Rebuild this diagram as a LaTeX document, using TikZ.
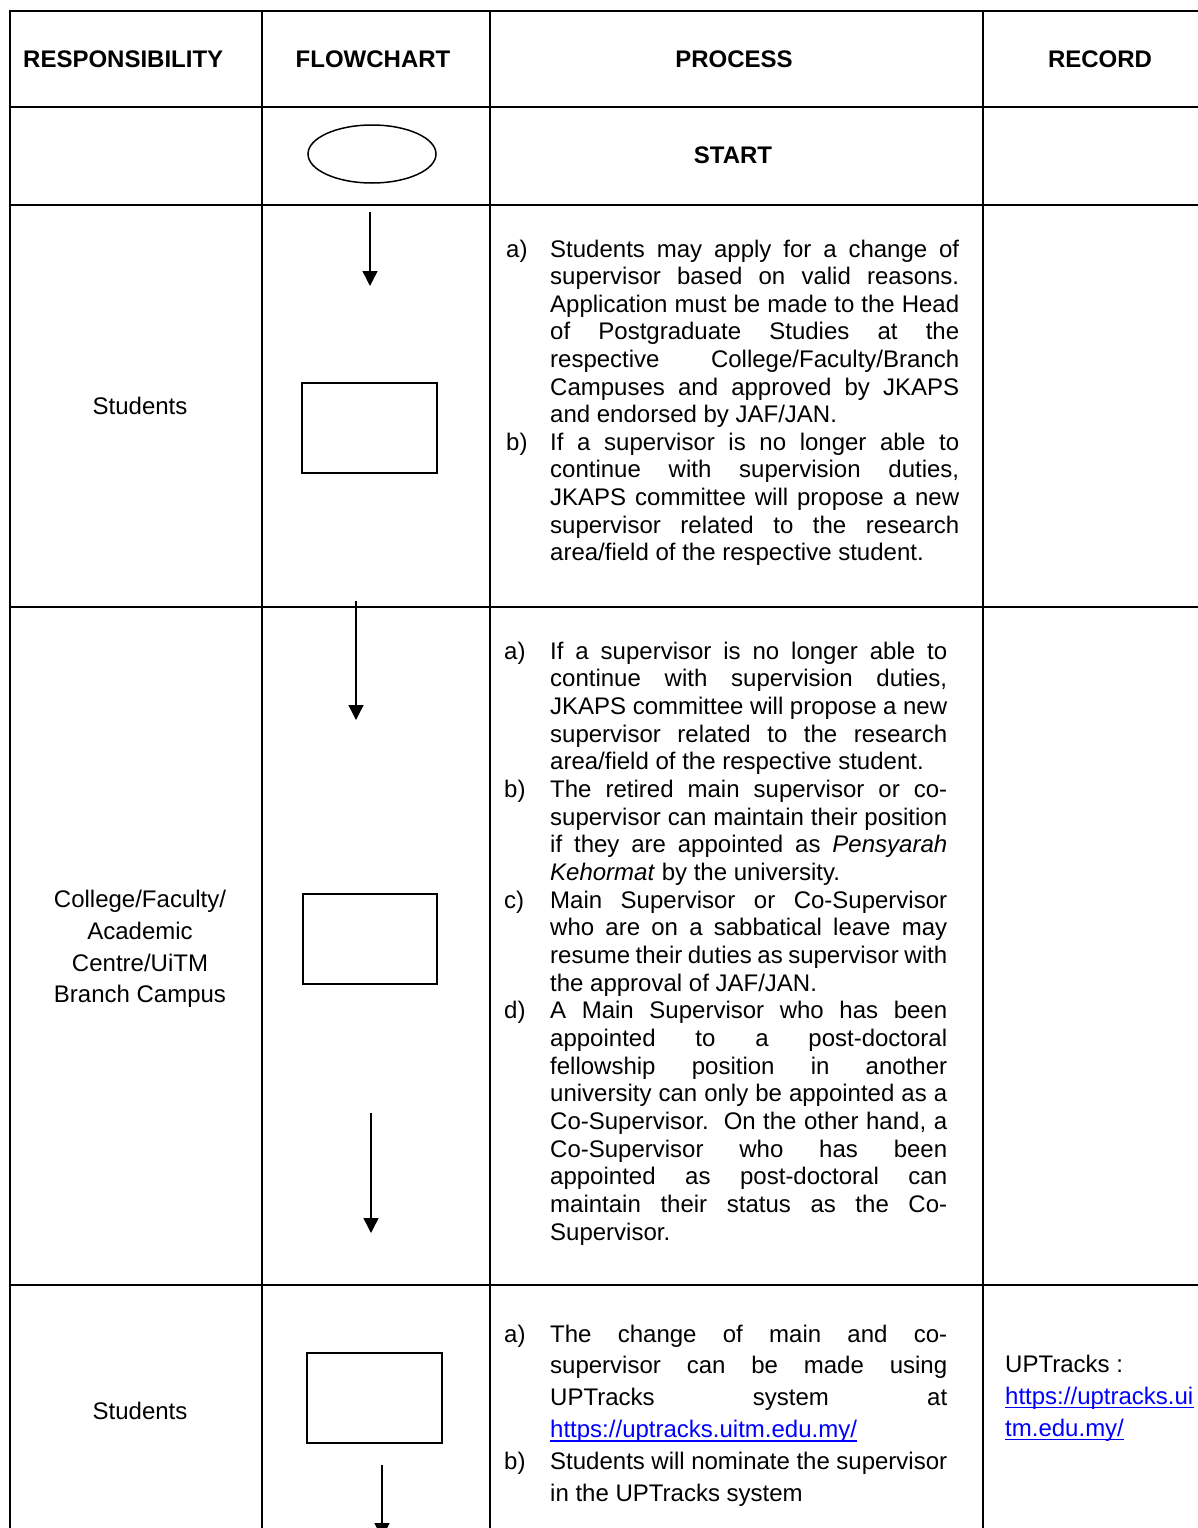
\documentclass[tikz,border=0pt]{standalone}
\usepackage{fontspec}
\setmainfont{Liberation Sans}
\usetikzlibrary{arrows.meta,shapes.geometric}
\definecolor{linkblue}{RGB}{0,0,255}
\newcommand{\bodyfont}{\fontsize{24}{27.6}\selectfont}
\newcommand{\JL}[4]{\node[txt] (#1) at #2 {\makebox[#3][s]{#4}};}
\newcommand{\LL}[3]{\node[txt] (#1) at #2 {#3};}
\begin{document}
\begin{tikzpicture}[x=1pt,y=-1pt,
  grid/.style={line width=2pt, line cap=rect},
  txt/.style={anchor=base west, inner sep=0pt, font=\bodyfont},
  ctxt/.style={anchor=base, inner sep=0pt, font=\bodyfont},
  head/.style={anchor=base, inner sep=0pt, font=\bodyfont\bfseries},
  stepbox/.style={draw, line width=2pt, rectangle, minimum width=135pt, minimum height=90pt, inner sep=0pt},
  flowarrow/.style={line width=1.4pt, -{Triangle[width=15pt,length=15pt]}},
  linktxt/.style={txt, text=linkblue}
]
\clip (0,0) rectangle (1198,1528);
\fill[white] (0,0) rectangle (1198,1528);

% grid
\draw[grid] (10,11) -- (1200,11);
\draw[grid] (10,107) -- (1200,107);
\draw[grid] (10,205) -- (1200,205);
\draw[grid] (10,607) -- (1200,607);
\draw[grid] (10,1285) -- (1200,1285);
\draw[grid] (10,11) -- (10,1530);
\draw[grid] (262,11) -- (262,1530);
\draw[grid] (490,11) -- (490,1530);
\draw[grid] (983,11) -- (983,1530);

% header
\node[txt, font=\bodyfont\bfseries] (hResp) at (23,67.6) {RESPONSIBILITY};
\node[head] (hFlow) at (373,67.6) {FLOWCHART};
\node[head] (hProc) at (734,67.6) {PROCESS};
\node[head] (hRec) at (1100,67.6) {RECORD};

% start row
\node[draw, ellipse, line width=1.5pt, minimum width=128pt, minimum height=58pt, inner sep=0pt] (start) at (372,154) {};
\node[head] (startTxt) at (733,163.6) {START};

% flowchart shapes
\node[stepbox] (box1) at (369.5,428) {};
\node[stepbox, minimum width=134pt] (box2) at (370,939) {};
\node[stepbox] (box3) at (374.5,1398) {};

\coordinate (a1s) at (370,212); \coordinate (a1e) at (370,286);
\coordinate (a2s) at (356,601); \coordinate (a2e) at (356,720);
\coordinate (a3s) at (371,1113); \coordinate (a3e) at (371,1233);
\coordinate (a4s) at (382,1465); \coordinate (a4e) at (382,1538);
\draw[flowarrow] (a1s) -- (a1e);
\draw[flowarrow] (a2s) -- (a2e);
\draw[flowarrow] (a3s) -- (a3e);
\draw[flowarrow] (a4s) -- (a4e);

% responsibility column
\node[ctxt] (resp1) at (140,414) {Students};
\node[ctxt] (resp2a) at (140,907) {College/Faculty/};
\node[ctxt] (resp2b) at (140,939) {Academic};
\node[ctxt] (resp2c) at (140,971) {Centre/UiTM};
\node[ctxt] (resp2d) at (140,1002) {Branch Campus};
\node[ctxt] (resp3) at (140,1419) {Students};

% process row 2
\LL{pAa}{(506,257)}{a)}
\JL{pA1}{(550,257)}{409pt}{Students may apply for a change of}
\JL{pA2}{(550,284.6)}{409pt}{supervisor based on valid reasons.}
\JL{pA3}{(550,312.2)}{409pt}{Application must be made to the Head}
\JL{pA4}{(550,339.8)}{409pt}{of Postgraduate Studies at the}
\JL{pA5}{(550,367.4)}{409pt}{respective College/Faculty/Branch}
\JL{pA6}{(550,395)}{409pt}{Campuses and approved by JKAPS}
\LL{pA7}{(550,422.6)}{and endorsed by JAF/JAN.}
\LL{pAb}{(506,450.2)}{b)}
\JL{pA8}{(550,450.2)}{409pt}{If a supervisor is no longer able to}
\JL{pA9}{(550,477.8)}{409pt}{continue with supervision duties,}
\JL{pA10}{(550,505.4)}{409pt}{JKAPS committee will propose a new}
\JL{pA11}{(550,533)}{409pt}{supervisor related to the research}
\LL{pA12}{(550,560.6)}{area/field of the respective student.}

% process row 3
\LL{pBa}{(504,659)}{a)}
\JL{pB1}{(550,659)}{397pt}{If a supervisor is no longer able to}
\JL{pB2}{(550,686.67)}{397pt}{continue with supervision duties,}
\JL{pB3}{(550,714.33)}{397pt}{JKAPS committee will propose a new}
\JL{pB4}{(550,742)}{397pt}{supervisor related to the research}
\LL{pB5}{(550,769.67)}{area/field of the respective student.}
\LL{pBb}{(504,797.33)}{b)}
\JL{pB6}{(550,797.33)}{397pt}{The retired main supervisor or co-}
\JL{pB7}{(550,825)}{397pt}{supervisor can maintain their position}
\JL{pB8}{(550,852.67)}{397pt}{if they are appointed as \textit{Pensyarah}}
\LL{pB9}{(550,880.33)}{\textit{Kehormat} by the university.}
\LL{pBc}{(504,908)}{c)}
\JL{pB10}{(550,908)}{397pt}{Main Supervisor or Co-Supervisor}
\JL{pB11}{(550,935.67)}{397pt}{who are on a sabbatical leave may}
\JL{pB12}{(550,963.33)}{397pt}{resume their duties as supervisor with}
\LL{pB13}{(550,991)}{the approval of JAF/JAN.}
\LL{pBd}{(504,1018.67)}{d)}
\JL{pB14}{(550,1018.67)}{397pt}{A Main Supervisor who has been}
\JL{pB15}{(550,1046.33)}{397pt}{appointed to a post-doctoral}
\JL{pB16}{(550,1074)}{397pt}{fellowship position in another}
\JL{pB17}{(550,1101.67)}{397pt}{university can only be appointed as a}
\JL{pB18}{(550,1129.33)}{397pt}{Co-Supervisor.\ \ On the other hand, a}
\JL{pB19}{(550,1157)}{397pt}{Co-Supervisor who has been}
\JL{pB20}{(550,1184.67)}{397pt}{appointed as post-doctoral can}
\JL{pB21}{(550,1212.33)}{397pt}{maintain their status as the Co-}
\LL{pB22}{(550,1240)}{Supervisor.}

% process row 4
\LL{pCa}{(504,1342)}{a)}
\JL{pC1}{(550,1342)}{397pt}{The change of main and co-}
\JL{pC2}{(550,1373.8)}{397pt}{supervisor can be made using}
\JL{pC3}{(550,1405.6)}{397pt}{UPTracks system at}
\node[linktxt] (pC4) at (550,1437.4) {https://uptracks.uitm.edu.my/};
\draw[linkblue, line width=1.8pt] ([yshift=-3.5pt]pC4.base west) -- ([yshift=-3.5pt]pC4.base east);
\LL{pCb}{(504,1469.2)}{b)}
\JL{pC5}{(550,1469.2)}{397pt}{Students will nominate the supervisor}
\LL{pC6}{(550,1501)}{in the UPTracks system}

% record column
\LL{rec1}{(1005,1372)}{UPTracks :}
\node[linktxt] (rec2) at (1005,1404) {https://uptracks.ui};
\node[linktxt] (rec3) at (1005,1436) {tm.edu.my/};
\draw[linkblue, line width=1.8pt] ([yshift=-3.5pt]rec2.base west) -- ([yshift=-3.5pt]rec2.base east);
\draw[linkblue, line width=1.8pt] ([yshift=-3.5pt]rec3.base west) -- ([yshift=-3.5pt]rec3.base east);
\end{tikzpicture}
\end{document}
